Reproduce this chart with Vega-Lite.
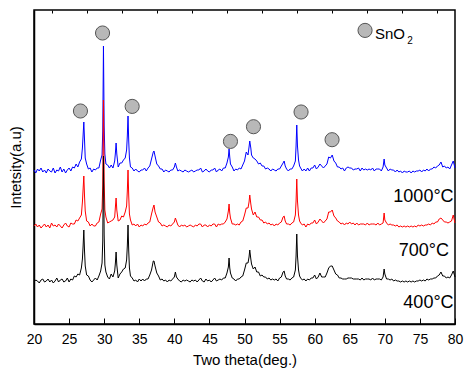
{
"$schema": "https://vega.github.io/schema/vega-lite/v6.json",
"width": 421, "height": 314,
"autosize": {"type": "none"},
"padding": {"left": 34, "top": 10, "right": 11, "bottom": 49},
"config": {"font": "Liberation Sans", "view": {"stroke": "#000", "strokeWidth": 1.5}},
"datasets": {
"xrd": [
{"x":20.0,"b":154,"r":98,"k":42},{"x":20.25,"b":151,"r":100,"k":44},{"x":20.5,"b":155,"r":97,"k":43},{"x":20.75,"b":153,"r":99,"k":41},
{"x":21.0,"b":156,"r":96,"k":44},{"x":21.25,"b":152,"r":98,"k":45},{"x":21.5,"b":154,"r":100,"k":42},{"x":21.75,"b":151,"r":97,"k":43},
{"x":22.0,"b":155,"r":99,"k":45},{"x":22.25,"b":153,"r":96,"k":42},{"x":22.5,"b":152,"r":101,"k":44},{"x":22.75,"b":156,"r":98,"k":41},
{"x":23.0,"b":151,"r":99,"k":43},{"x":23.25,"b":154,"r":97,"k":46},{"x":23.5,"b":153,"r":100,"k":42},{"x":23.75,"b":157,"r":98,"k":44},
{"x":24.0,"b":152,"r":96,"k":45},{"x":24.25,"b":155,"r":99,"k":42},{"x":24.5,"b":151,"r":101,"k":43},{"x":24.75,"b":154,"r":98,"k":46},
{"x":25.0,"b":156,"r":97,"k":42},{"x":25.25,"b":153,"r":101,"k":45},{"x":25.5,"b":157,"r":100,"k":44},{"x":25.75,"b":156,"r":100,"k":48},
{"x":26.0,"b":160,"r":104,"k":47},{"x":26.25,"b":157,"r":103,"k":50},{"x":26.5,"b":162,"r":106,"k":49},{"x":26.75,"b":165,"r":109,"k":56},
{"x":26.9,"b":176,"r":122,"k":65},{"x":27.0,"b":189,"r":135,"k":78},{"x":27.1,"b":202,"r":148,"k":94},{"x":27.2,"b":184,"r":128,"k":73},
{"x":27.3,"b":166,"r":113,"k":58},{"x":27.5,"b":160,"r":103,"k":49},{"x":27.75,"b":155,"r":102,"k":48},{"x":28.0,"b":156,"r":98,"k":44},
{"x":28.25,"b":152,"r":100,"k":42},{"x":28.5,"b":155,"r":98,"k":44},{"x":28.75,"b":154,"r":98,"k":46},{"x":29.0,"b":156,"r":101,"k":44},
{"x":29.25,"b":156,"r":102,"k":48},{"x":29.5,"b":164,"r":110,"k":53},{"x":29.7,"b":169,"r":115,"k":61},{"x":29.8,"b":193,"r":138,"k":83},
{"x":29.9,"b":278,"r":224,"k":168},{"x":30.0,"b":198,"r":143,"k":89},{"x":30.1,"b":170,"r":114,"k":59},{"x":30.25,"b":160,"r":107,"k":52},
{"x":30.5,"b":159,"r":101,"k":47},{"x":30.75,"b":156,"r":102,"k":45},{"x":31.0,"b":159,"r":103,"k":50},{"x":31.25,"b":156,"r":104,"k":47},
{"x":31.5,"b":163,"r":107,"k":53},{"x":31.6,"b":171,"r":117,"k":61},{"x":31.7,"b":181,"r":126,"k":72},{"x":31.8,"b":170,"r":114,"k":59},
{"x":32.0,"b":157,"r":103,"k":46},{"x":32.25,"b":161,"r":104,"k":50},{"x":32.5,"b":161,"r":108,"k":52},{"x":32.75,"b":164,"r":107,"k":55},
{"x":33.0,"b":166,"r":112,"k":56},{"x":33.2,"b":174,"r":118,"k":64},{"x":33.3,"b":188,"r":133,"k":78},{"x":33.4,"b":208,"r":154,"k":99},
{"x":33.5,"b":183,"r":128,"k":73},{"x":33.6,"b":166,"r":110,"k":56},{"x":33.75,"b":157,"r":104,"k":48},{"x":34.0,"b":156,"r":99,"k":46},
{"x":34.25,"b":153,"r":100,"k":43},{"x":34.5,"b":155,"r":98,"k":44},{"x":34.75,"b":153,"r":100,"k":42},{"x":35.0,"b":152,"r":97,"k":45},
{"x":35.25,"b":154,"r":99,"k":43},{"x":35.5,"b":154,"r":98,"k":45},{"x":35.75,"b":156,"r":100,"k":43},{"x":36.0,"b":153,"r":99,"k":45},
{"x":36.25,"b":156,"r":101,"k":45},{"x":36.5,"b":158,"r":102,"k":49},{"x":36.75,"b":165,"r":110,"k":54},{"x":37.0,"b":172,"r":117,"k":63},
{"x":37.1,"b":173,"r":119,"k":63},{"x":37.25,"b":168,"r":112,"k":58},{"x":37.5,"b":160,"r":107,"k":51},{"x":37.75,"b":158,"r":102,"k":48},
{"x":38.0,"b":155,"r":101,"k":44},{"x":38.25,"b":155,"r":98,"k":45},{"x":38.5,"b":152,"r":99,"k":43},{"x":38.75,"b":154,"r":98,"k":44},
{"x":39.0,"b":153,"r":97,"k":42},{"x":39.25,"b":152,"r":99,"k":44},{"x":39.5,"b":154,"r":98,"k":43},{"x":39.75,"b":154,"r":100,"k":45},
{"x":40.0,"b":157,"r":102,"k":47},{"x":40.15,"b":161,"r":106,"k":52},{"x":40.3,"b":157,"r":103,"k":47},{"x":40.5,"b":153,"r":99,"k":45},
{"x":40.75,"b":154,"r":97,"k":43},{"x":41.0,"b":153,"r":99,"k":42},{"x":41.25,"b":152,"r":98,"k":44},{"x":41.5,"b":154,"r":99,"k":43},
{"x":41.75,"b":153,"r":97,"k":44},{"x":42.0,"b":152,"r":98,"k":43},{"x":42.25,"b":153,"r":99,"k":42},{"x":42.5,"b":154,"r":98,"k":44},
{"x":42.75,"b":152,"r":97,"k":43},{"x":43.0,"b":153,"r":99,"k":44},{"x":43.25,"b":154,"r":98,"k":42},{"x":43.5,"b":154,"r":100,"k":44},
{"x":43.75,"b":156,"r":100,"k":46},{"x":44.0,"b":152,"r":97,"k":43},{"x":44.25,"b":153,"r":99,"k":42},{"x":44.5,"b":155,"r":99,"k":45},
{"x":44.75,"b":153,"r":97,"k":43},{"x":45.0,"b":152,"r":99,"k":44},{"x":45.25,"b":154,"r":98,"k":42},{"x":45.5,"b":154,"r":100,"k":44},
{"x":45.75,"b":156,"r":100,"k":46},{"x":46.0,"b":152,"r":97,"k":43},{"x":46.25,"b":154,"r":100,"k":44},{"x":46.5,"b":155,"r":99,"k":45},
{"x":46.75,"b":153,"r":100,"k":44},{"x":47.0,"b":156,"r":100,"k":46},{"x":47.25,"b":156,"r":102,"k":46},{"x":47.5,"b":161,"r":105,"k":51},
{"x":47.7,"b":167,"r":113,"k":57},{"x":47.8,"b":175,"r":120,"k":66},{"x":47.9,"b":167,"r":111,"k":56},{"x":48.0,"b":160,"r":106,"k":51},
{"x":48.25,"b":157,"r":100,"k":46},{"x":48.5,"b":153,"r":100,"k":45},{"x":48.75,"b":155,"r":99,"k":43},{"x":49.0,"b":154,"r":100,"k":45},
{"x":49.25,"b":156,"r":99,"k":45},{"x":49.5,"b":155,"r":102,"k":47},{"x":49.75,"b":159,"r":103,"k":48},{"x":50.0,"b":163,"r":109,"k":54},
{"x":50.25,"b":172,"r":116,"k":61},{"x":50.5,"b":169,"r":116,"k":61},{"x":50.65,"b":177,"r":122,"k":67},{"x":50.75,"b":183,"r":129,"k":74},
{"x":50.9,"b":176,"r":120,"k":65},{"x":51.0,"b":169,"r":115,"k":60},{"x":51.25,"b":166,"r":109,"k":55},{"x":51.5,"b":165,"r":112,"k":57},
{"x":51.75,"b":163,"r":107,"k":52},{"x":52.0,"b":160,"r":107,"k":52},{"x":52.25,"b":161,"r":104,"k":48},{"x":52.5,"b":158,"r":104,"k":49},
{"x":52.75,"b":158,"r":101,"k":47},{"x":53.0,"b":155,"r":102,"k":47},{"x":53.25,"b":156,"r":100,"k":45},{"x":53.5,"b":155,"r":101,"k":46},
{"x":53.75,"b":153,"r":99,"k":44},{"x":54.0,"b":155,"r":100,"k":45},{"x":54.25,"b":154,"r":98,"k":44},{"x":54.5,"b":153,"r":100,"k":45},
{"x":54.75,"b":155,"r":99,"k":43},{"x":55.0,"b":155,"r":101,"k":46},{"x":55.25,"b":158,"r":102,"k":47},{"x":55.5,"b":161,"r":107,"k":52},
{"x":55.65,"b":163,"r":108,"k":53},{"x":55.8,"b":158,"r":103,"k":48},{"x":56.0,"b":155,"r":100,"k":45},{"x":56.25,"b":153,"r":100,"k":45},
{"x":56.5,"b":155,"r":99,"k":44},{"x":56.75,"b":155,"r":101,"k":46},{"x":57.0,"b":158,"r":102,"k":47},{"x":57.25,"b":163,"r":109,"k":54},
{"x":57.35,"b":178,"r":123,"k":68},{"x":57.45,"b":199,"r":145,"k":90},{"x":57.55,"b":178,"r":123,"k":68},{"x":57.7,"b":164,"r":109,"k":54},
{"x":57.85,"b":158,"r":103,"k":48},{"x":58.0,"b":156,"r":101,"k":46},{"x":58.25,"b":153,"r":99,"k":44},{"x":58.5,"b":155,"r":100,"k":45},
{"x":58.75,"b":153,"r":97,"k":43},{"x":59.0,"b":156,"r":100,"k":45},{"x":59.25,"b":153,"r":99,"k":44},{"x":59.5,"b":156,"r":101,"k":46},
{"x":59.75,"b":156,"r":101,"k":46},{"x":60.0,"b":159,"r":104,"k":49},{"x":60.25,"b":155,"r":100,"k":45},{"x":60.5,"b":157,"r":102,"k":47},
{"x":60.75,"b":160,"r":105,"k":51},{"x":61.0,"b":158,"r":103,"k":47},{"x":61.25,"b":156,"r":101,"k":47},{"x":61.5,"b":158,"r":103,"k":47},
{"x":61.75,"b":160,"r":105,"k":51},{"x":62.0,"b":167,"r":112,"k":56},{"x":62.25,"b":166,"r":112,"k":58},{"x":62.5,"b":169,"r":114,"k":58},
{"x":62.75,"b":163,"r":108,"k":54},{"x":63.0,"b":161,"r":106,"k":50},{"x":63.25,"b":157,"r":103,"k":49},{"x":63.5,"b":157,"r":102,"k":46},
{"x":63.75,"b":155,"r":100,"k":46},{"x":64.0,"b":156,"r":101,"k":45},{"x":64.25,"b":153,"r":99,"k":45},{"x":64.5,"b":156,"r":101,"k":45},
{"x":64.75,"b":157,"r":100,"k":46},{"x":65.0,"b":156,"r":102,"k":46},{"x":65.25,"b":156,"r":100,"k":46},{"x":65.5,"b":154,"r":101,"k":45},
{"x":65.75,"b":155,"r":99,"k":45},{"x":66.0,"b":155,"r":101,"k":45},{"x":66.25,"b":156,"r":99,"k":45},{"x":66.5,"b":153,"r":100,"k":44},
{"x":66.75,"b":156,"r":100,"k":46},{"x":67.0,"b":154,"r":100,"k":44},{"x":67.25,"b":155,"r":99,"k":45},{"x":67.5,"b":154,"r":101,"k":45},
{"x":67.75,"b":155,"r":99,"k":45},{"x":68.0,"b":154,"r":100,"k":44},{"x":68.25,"b":156,"r":100,"k":46},{"x":68.5,"b":153,"r":100,"k":44},
{"x":68.75,"b":155,"r":99,"k":45},{"x":69.0,"b":155,"r":101,"k":45},{"x":69.25,"b":155,"r":99,"k":45},{"x":69.5,"b":153,"r":100,"k":44},
{"x":69.75,"b":157,"r":101,"k":47},{"x":69.9,"b":165,"r":111,"k":55},{"x":70.0,"b":159,"r":104,"k":50},{"x":70.25,"b":156,"r":101,"k":45},
{"x":70.5,"b":153,"r":99,"k":45},{"x":70.75,"b":155,"r":100,"k":44},{"x":71.0,"b":154,"r":99,"k":45},{"x":71.25,"b":154,"r":99,"k":43},
{"x":71.5,"b":152,"r":98,"k":44},{"x":71.75,"b":154,"r":99,"k":43},{"x":72.0,"b":152,"r":97,"k":43},{"x":72.25,"b":153,"r":98,"k":42},
{"x":72.5,"b":151,"r":97,"k":43},{"x":72.75,"b":153,"r":98,"k":42},{"x":73.0,"b":152,"r":97,"k":43},{"x":73.25,"b":152,"r":98,"k":42},
{"x":73.5,"b":153,"r":97,"k":43},{"x":73.75,"b":151,"r":98,"k":42},{"x":74.0,"b":153,"r":97,"k":43},{"x":74.25,"b":152,"r":98,"k":42},
{"x":74.5,"b":153,"r":97,"k":43},{"x":74.75,"b":153,"r":99,"k":43},{"x":75.0,"b":154,"r":98,"k":44},{"x":75.25,"b":152,"r":99,"k":43},
{"x":75.5,"b":154,"r":98,"k":44},{"x":75.75,"b":153,"r":99,"k":43},{"x":76.0,"b":155,"r":99,"k":45},{"x":76.25,"b":153,"r":100,"k":44},
{"x":76.5,"b":155,"r":99,"k":45},{"x":76.75,"b":155,"r":101,"k":45},{"x":77.0,"b":157,"r":100,"k":46},{"x":77.25,"b":156,"r":102,"k":46},
{"x":77.5,"b":158,"r":102,"k":48},{"x":77.75,"b":159,"r":105,"k":49},{"x":78.0,"b":162,"r":106,"k":52},{"x":78.25,"b":157,"r":104,"k":48},
{"x":78.5,"b":158,"r":102,"k":48},{"x":78.75,"b":156,"r":102,"k":46},{"x":79.0,"b":157,"r":101,"k":47},{"x":79.25,"b":155,"r":102,"k":46},
{"x":79.5,"b":159,"r":103,"k":49},{"x":79.75,"b":163,"r":109,"k":53},{"x":80.0,"b":156,"r":101,"k":47}
],
"circ": [
{"x":26.62,"y":213},{"x":29.77,"y":291},{"x":33.99,"y":217.6},{"x":48.0,"y":182.6},
{"x":51.28,"y":197.3},{"x":58.06,"y":212},{"x":62.48,"y":184.3},{"x":67.18,"y":293.6}
],
"temps": [
{"x":79.8,"y":121.6,"t":"1000°C"},{"x":79.15,"y":68.3,"t":"700°C"},{"x":79.8,"y":16,"t":"400°C"}
],
"leg": [{"x":68.6,"y":285.3,"t":"SnO"}],
"sub": [{"x":73.2,"y":280.5,"t":"2"}]
},
"data": {"name": "xrd"},
"resolve": {"axis": {"x": "independent", "y": "independent"}},
"layer": [
{"mark": {"type": "line", "color": "#0000ff", "strokeWidth": 1},
 "encoding": {
  "x": {"field": "x", "type": "quantitative", "scale": {"domain": [20, 80], "nice": false, "zero": false},
   "axis": {"values": [20,25,30,35,40,45,50,55,60,65,70,75,80], "tickSize": -6, "tickColor": "#000", "tickWidth": 1,
    "domainColor": "#000", "domainWidth": 1.5, "labelFontSize": 14, "labelColor": "#000", "labelFlush": false, "labelOverlap": false,
    "labelPadding": 14, "grid": false, "title": "Two theta(deg.)", "titleFontSize": 15, "titleFontWeight": "normal", "titleColor": "#000", "titlePadding": 6}},
  "y": {"field": "b", "type": "quantitative", "scale": {"domain": [0, 314], "nice": false, "zero": false},
   "axis": {"ticks": false, "labels": false, "grid": false, "domainColor": "#000", "domainWidth": 1.5,
    "title": "Intetsity(a.u)", "titleFontSize": 15, "titleFontWeight": "normal", "titleColor": "#000", "titlePadding": 11}}
 }},
{"mark": {"type": "line", "color": "#ff0000", "strokeWidth": 1},
 "encoding": {"x": {"field": "x", "type": "quantitative", "axis": null}, "y": {"field": "r", "type": "quantitative", "axis": null}}},
{"mark": {"type": "line", "color": "#000000", "strokeWidth": 1},
 "encoding": {"x": {"field": "x", "type": "quantitative", "axis": null}, "y": {"field": "k", "type": "quantitative", "axis": null}}},
{"data": {"name": "circ"},
 "mark": {"type": "point", "shape": "circle", "filled": true, "fill": "#b8b8b8", "stroke": "#555555", "strokeWidth": 1, "size": 200, "opacity": 1},
 "encoding": {
  "x": {"field": "x", "type": "quantitative",
   "axis": {"values": [22.5,27.5,32.5,37.5,42.5,47.5,52.5,57.5,62.5,67.5,72.5,77.5], "tickSize": -3, "tickColor": "#000", "tickWidth": 1,
    "labels": false, "domain": false, "grid": false, "title": null}},
  "y": {"field": "y", "type": "quantitative", "axis": null}}},
{"data": {"name": "temps"},
 "mark": {"type": "text", "align": "right", "baseline": "alphabetic", "fontSize": 18, "color": "#000"},
 "encoding": {"x": {"field": "x", "type": "quantitative", "axis": null}, "y": {"field": "y", "type": "quantitative", "axis": null}, "text": {"field": "t"}}},
{"data": {"name": "leg"},
 "mark": {"type": "text", "align": "left", "baseline": "alphabetic", "fontSize": 15, "color": "#000"},
 "encoding": {"x": {"field": "x", "type": "quantitative", "axis": null}, "y": {"field": "y", "type": "quantitative", "axis": null}, "text": {"field": "t"}}},
{"data": {"name": "sub"},
 "mark": {"type": "text", "align": "left", "baseline": "alphabetic", "fontSize": 10, "color": "#000"},
 "encoding": {"x": {"field": "x", "type": "quantitative", "axis": null}, "y": {"field": "y", "type": "quantitative", "axis": null}, "text": {"field": "t"}}}
]
}
